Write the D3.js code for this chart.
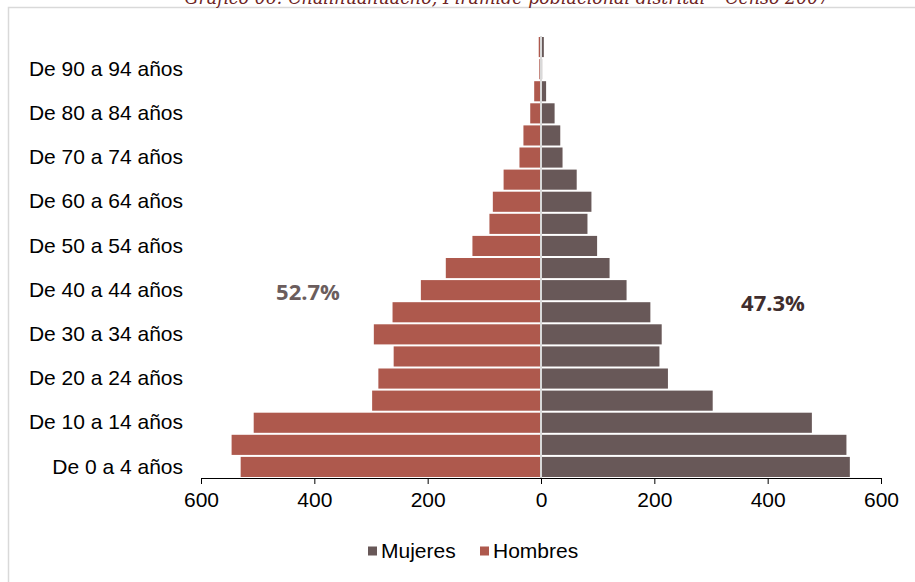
<!DOCTYPE html>
<html>
<head>
<meta charset="utf-8">
<script src="https://cdn.jsdelivr.net/npm/d3@7"></script>
<style>
  html, body { margin: 0; padding: 0; background: #fff; }
  svg { display: block; }
</style>
</head>
<body>
<svg id="chart" width="915" height="582"></svg>
<script>
// ---- data (bottom to top: youngest to oldest) ----
const ageGroups = [
  "De 0 a 4 años", "De 5 a 9 años", "De 10 a 14 años", "De 15 a 19 años",
  "De 20 a 24 años", "De 25 a 29 años", "De 30 a 34 años", "De 35 a 39 años",
  "De 40 a 44 años", "De 45 a 49 años", "De 50 a 54 años", "De 55 a 59 años",
  "De 60 a 64 años", "De 65 a 69 años", "De 70 a 74 años", "De 75 a 79 años",
  "De 80 a 84 años", "De 85 a 89 años", "De 90 a 94 años", "De 95 a más años"
];
const hombres = [530, 546, 507, 298, 287, 260, 295, 262, 212, 168, 121, 91, 85, 66, 38, 31, 19, 12, 3, 4];
const mujeres = [545, 539, 478, 303, 224, 209, 213, 193, 151, 121, 99, 82, 89, 63, 38, 34, 24, 9, 2, 5];
const xTicks = [-600, -400, -200, 0, 200, 400, 600];
const shownLabels = ageGroups.filter((d, i) => i % 2 === 0 && i < 19);
const titleText = "Gráfico 06: Challhuahuacho, Pirámide poblacional distrital – Censo 2007";
const pctHombres = "52.7%";
const pctMujeres = "47.3%";
const seriesNames = ["Mujeres", "Hombres"];

const colH = "#ae594d";
const colM = "#685858";

const svg = d3.select("#chart");

// frame
svg.append("rect")
  .attr("x", 8.5).attr("y", 7.5)
  .attr("width", 940).attr("height", 600)
  .attr("fill", "none").attr("stroke", "#d9d9d9").attr("stroke-width", 1.5);

// title (cut off at top, as in the source image)
svg.append("text")
  .attr("x", 507).attr("y", 4)
  .attr("text-anchor", "middle")
  .attr("font-family", "'DejaVu Serif', 'Liberation Serif', serif")
  .attr("font-style", "italic")
  .attr("font-size", 19)
  .attr("fill", "#6e2424")
  .attr("textLength", 645)
  .attr("lengthAdjust", "spacingAndGlyphs")
  .text(titleText);

const x = d3.scaleLinear().domain([-600, 600]).range([201, 881]);
const y = d3.scaleBand()
  .domain(ageGroups.slice().reverse())
  .range([36, 478])
  .paddingInner(0.09)
  .paddingOuter(0.045);

const rows = ageGroups.map((g, i) => ({ g, h: hombres[i], m: mujeres[i] }));

// Hombres bars (left)
svg.append("g").selectAll("rect").data(rows).join("rect")
  .attr("x", d => x(-d.h))
  .attr("y", d => y(d.g))
  .attr("width", d => x(0) - x(-d.h))
  .attr("height", y.bandwidth())
  .attr("fill", colH);

// Mujeres bars (right)
svg.append("g").selectAll("rect").data(rows).join("rect")
  .attr("x", x(0))
  .attr("y", d => y(d.g))
  .attr("width", d => x(d.m) - x(0))
  .attr("height", y.bandwidth())
  .attr("fill", colM);

// zero line
svg.append("line")
  .attr("x1", x(0)).attr("x2", x(0))
  .attr("y1", 36).attr("y2", 478)
  .attr("stroke", "#d9d9d9").attr("stroke-width", 2);

// x axis
const xAxis = svg.append("g")
  .attr("transform", "translate(0,478)")
  .call(d3.axisBottom(x).tickValues(xTicks).tickFormat(d => Math.abs(d)).tickSize(6).tickSizeOuter(6));
xAxis.select(".domain").attr("stroke", "#000");
xAxis.selectAll(".tick line").attr("stroke", "#000");
xAxis.selectAll("text")
  .attr("font-family", "'Liberation Sans', Arial, sans-serif")
  .attr("font-size", 21)
  .attr("fill", "#000")
  .attr("dy", "0.95em");

// y axis labels
const yAxis = svg.append("g")
  .attr("transform", "translate(183,0)")
  .call(d3.axisLeft(y).tickValues(shownLabels).tickSize(0).tickPadding(0));
yAxis.select(".domain").remove();
yAxis.selectAll("text")
  .attr("font-family", "'Liberation Sans', Arial, sans-serif")
  .attr("font-size", 21)
  .attr("fill", "#000");

// percentage labels
svg.append("text")
  .attr("x", 308).attr("y", 292).attr("dy", "0.35em")
  .attr("text-anchor", "middle")
  .attr("font-family", "'Open Sans', sans-serif").attr("font-weight", "bold")
  .attr("font-size", 22).attr("fill", "#6b5d5d")
  .text(pctHombres);
svg.append("text")
  .attr("x", 773).attr("y", 303).attr("dy", "0.35em")
  .attr("text-anchor", "middle")
  .attr("font-family", "'Open Sans', sans-serif").attr("font-weight", "bold")
  .attr("font-size", 22).attr("fill", "#402e2e")
  .text(pctMujeres);

// legend
const legend = svg.append("g").attr("transform", "translate(368,551)");
const legendItems = [
  { name: seriesNames[0], color: colM, dx: 0 },
  { name: seriesNames[1], color: colH, dx: 112 }
];
const li = legend.selectAll("g").data(legendItems).join("g")
  .attr("transform", d => `translate(${d.dx},0)`);
li.append("rect").attr("x", 0).attr("y", -4.5).attr("width", 9).attr("height", 9).attr("fill", d => d.color);
li.append("text").attr("x", 13).attr("y", 0).attr("dy", "0.35em")
  .attr("font-family", "'Liberation Sans', Arial, sans-serif")
  .attr("font-size", 21).attr("fill", "#000")
  .text(d => d.name);
</script>
</body>
</html>
